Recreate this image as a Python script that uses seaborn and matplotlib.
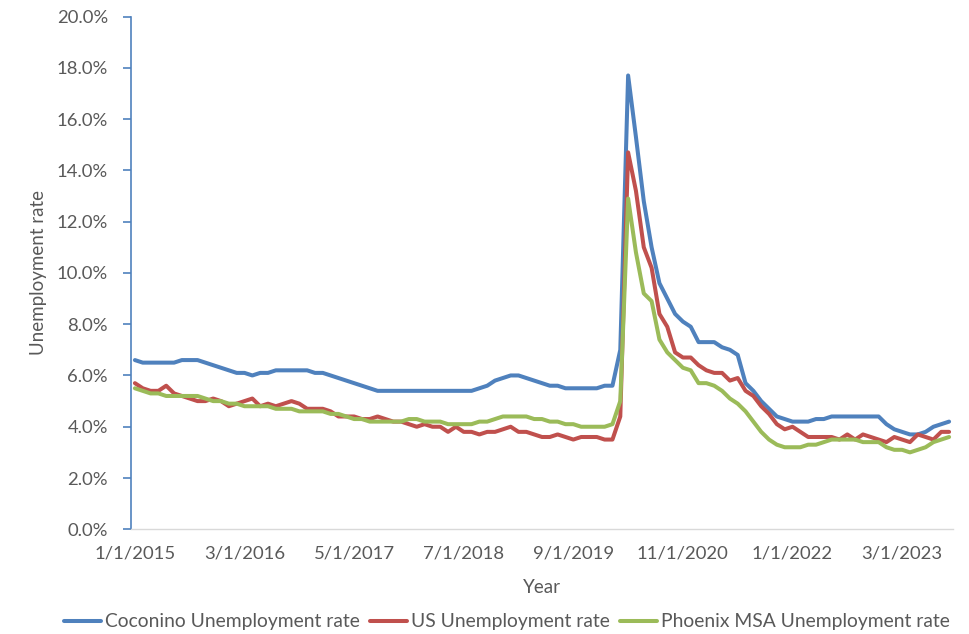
import matplotlib
matplotlib.use("Agg")
import matplotlib.pyplot as plt
import numpy as np
import pandas as pd
import seaborn as sns

# Monthly unemployment rates (%), January 2015 through September 2023
coconino = [
    6.6, 6.5, 6.5, 6.5, 6.5, 6.5, 6.6, 6.6, 6.6, 6.5, 6.4, 6.3,
    6.2, 6.1, 6.1, 6.0, 6.1, 6.1, 6.2, 6.2, 6.2, 6.2, 6.2, 6.1,
    6.1, 6.0, 5.9, 5.8, 5.7, 5.6, 5.5, 5.4, 5.4, 5.4, 5.4, 5.4,
    5.4, 5.4, 5.4, 5.4, 5.4, 5.4, 5.4, 5.4, 5.5, 5.6, 5.8, 5.9,
    6.0, 6.0, 5.9, 5.8, 5.7, 5.6, 5.6, 5.5, 5.5, 5.5, 5.5, 5.5,
    5.6, 5.6, 7.0, 17.7, 15.3, 12.8, 11.0, 9.6, 9.0, 8.4, 8.1, 7.9,
    7.3, 7.3, 7.3, 7.1, 7.0, 6.8, 5.7, 5.4, 5.0, 4.7, 4.4, 4.3,
    4.2, 4.2, 4.2, 4.3, 4.3, 4.4, 4.4, 4.4, 4.4, 4.4, 4.4, 4.4,
    4.1, 3.9, 3.8, 3.7, 3.7, 3.8, 4.0, 4.1, 4.2,
]
us = [
    5.7, 5.5, 5.4, 5.4, 5.6, 5.3, 5.2, 5.1, 5.0, 5.0, 5.1, 5.0,
    4.8, 4.9, 5.0, 5.1, 4.8, 4.9, 4.8, 4.9, 5.0, 4.9, 4.7, 4.7,
    4.7, 4.6, 4.4, 4.4, 4.4, 4.3, 4.3, 4.4, 4.3, 4.2, 4.2, 4.1,
    4.0, 4.1, 4.0, 4.0, 3.8, 4.0, 3.8, 3.8, 3.7, 3.8, 3.8, 3.9,
    4.0, 3.8, 3.8, 3.7, 3.6, 3.6, 3.7, 3.6, 3.5, 3.6, 3.6, 3.6,
    3.5, 3.5, 4.4, 14.7, 13.2, 11.0, 10.2, 8.4, 7.9, 6.9, 6.7, 6.7,
    6.4, 6.2, 6.1, 6.1, 5.8, 5.9, 5.4, 5.2, 4.8, 4.5, 4.1, 3.9,
    4.0, 3.8, 3.6, 3.6, 3.6, 3.6, 3.5, 3.7, 3.5, 3.7, 3.6, 3.5,
    3.4, 3.6, 3.5, 3.4, 3.7, 3.6, 3.5, 3.8, 3.8,
]
phoenix = [
    5.5, 5.4, 5.3, 5.3, 5.2, 5.2, 5.2, 5.2, 5.2, 5.1, 5.0, 5.0,
    4.9, 4.9, 4.8, 4.8, 4.8, 4.8, 4.7, 4.7, 4.7, 4.6, 4.6, 4.6,
    4.6, 4.5, 4.5, 4.4, 4.3, 4.3, 4.2, 4.2, 4.2, 4.2, 4.2, 4.3,
    4.3, 4.2, 4.2, 4.2, 4.1, 4.1, 4.1, 4.1, 4.2, 4.2, 4.3, 4.4,
    4.4, 4.4, 4.4, 4.3, 4.3, 4.2, 4.2, 4.1, 4.1, 4.0, 4.0, 4.0,
    4.0, 4.1, 5.0, 12.9, 10.8, 9.2, 8.9, 7.4, 6.9, 6.6, 6.3, 6.2,
    5.7, 5.7, 5.6, 5.4, 5.1, 4.9, 4.6, 4.2, 3.8, 3.5, 3.3, 3.2,
    3.2, 3.2, 3.3, 3.3, 3.4, 3.5, 3.5, 3.5, 3.5, 3.4, 3.4, 3.4,
    3.2, 3.1, 3.1, 3.0, 3.1, 3.2, 3.4, 3.5, 3.6,
]

series_names = [
    "Coconino Unemployment rate",
    "US Unemployment rate",
    "Phoenix MSA Unemployment rate",
]
series_colors = ["#4F81BD", "#C0504D", "#9BBB59"]

tick_labels = ["1/1/2015", "3/1/2016", "5/1/2017", "7/1/2018",
               "9/1/2019", "11/1/2020", "1/1/2022", "3/1/2023"]
tick_step = 14  # months between labelled categories
y_ticks = [0, 2, 4, 6, 8, 10, 12, 14, 16, 18, 20]

n = len(coconino)
month_idx = np.arange(n)
df = pd.concat(
    [
        pd.DataFrame({"month": month_idx, "rate": vals, "series": name})
        for name, vals in zip(series_names, [coconino, us, phoenix])
    ],
    ignore_index=True,
)

sns.set_style("white")
plt.rcParams["font.family"] = ["Lato", "DejaVu Sans"]
text_color = "#595959"

fig = plt.figure(figsize=(9.69, 6.34), dpi=100)
ax = fig.add_axes([131 / 969, 1 - 529.3 / 634, 822 / 969, (529.3 - 16.5) / 634])

sns.lineplot(
    data=df, x="month", y="rate", hue="series",
    hue_order=series_names, palette=series_colors,
    linewidth=2.9, ax=ax, legend=True,
)
for line in ax.get_lines():
    line.set_solid_joinstyle("round")
    line.set_solid_capstyle("round")

ax.set_xlim(-0.5, n - 0.5)
ax.set_ylim(0, 20)
ax.set_yticks(y_ticks)
ax.set_yticklabels([f"{v:.1f}%" for v in y_ticks])
ax.set_xticks(np.arange(len(tick_labels)) * tick_step)
ax.set_xticklabels(tick_labels)

ax.tick_params(axis="y", direction="out", length=6, width=1.2,
               color="#4F81BD", pad=10.5, labelsize=13.3, labelcolor=text_color, left=True)
ax.tick_params(axis="x", length=0, pad=12, labelsize=13.3, labelcolor=text_color)

for side in ["top", "right"]:
    ax.spines[side].set_visible(False)
ax.spines["left"].set_color("#4F81BD")
ax.spines["left"].set_linewidth(1.2)
ax.spines["bottom"].set_color("#D9D9D9")
ax.spines["bottom"].set_linewidth(1.0)
ax.grid(False)

ax.set_xlabel("Year", fontsize=13.5, color=text_color, labelpad=12)
ax.set_ylabel("Unemployment rate", fontsize=13.5, color=text_color)
ax.yaxis.set_label_coords(-0.102, 0.5)

sns.move_legend(
    ax, "center", bbox_to_anchor=(507 / 969, 12 / 634),
    bbox_transform=fig.transFigure, ncol=3, frameon=False, title=None,
    fontsize=13.9, handlelength=1.95, handletextpad=0.2, columnspacing=0.5,
)
for txt in ax.get_legend().get_texts():
    txt.set_color(text_color)

fig.savefig("out.png", dpi=100)
